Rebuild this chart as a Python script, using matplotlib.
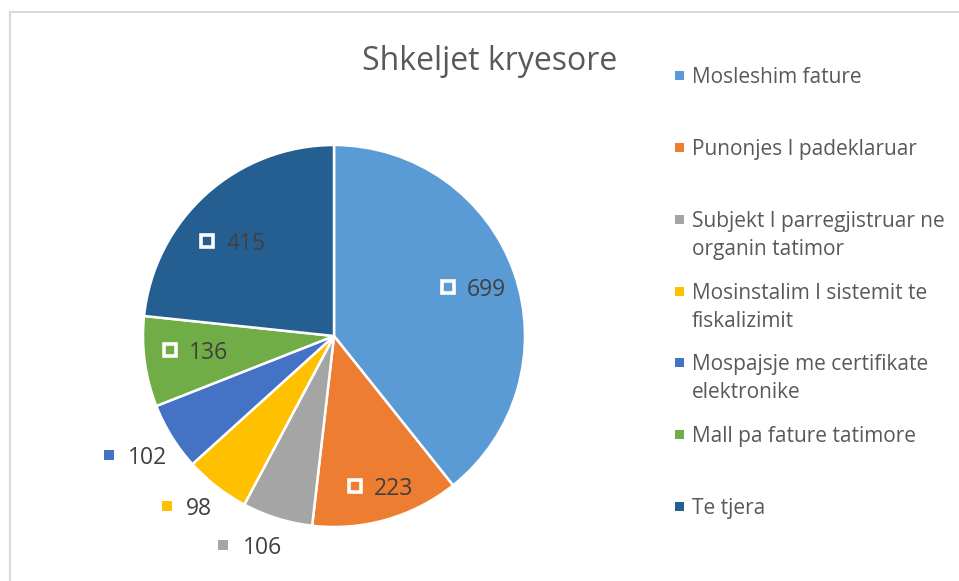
import matplotlib
matplotlib.use("Agg")
import matplotlib.pyplot as plt
import matplotlib.transforms as mtransforms
from matplotlib.patches import Rectangle
import numpy as np

title = "Shkeljet kryesore"
categories = [
    "Mosleshim fature",
    "Punonjes I padeklaruar",
    "Subjekt I parregjistruar ne\norganin tatimor",
    "Mosinstalim I sistemit te\nfiskalizimit",
    "Mospajsje me certifikate\nelektronike",
    "Mall pa fature tatimore",
    "Te tjera",
]
values = [699, 223, 106, 98, 102, 136, 415]
colors = ["#5B9BD5", "#ED7D31", "#A5A5A5", "#FFC000", "#4472C4", "#70AD47", "#255E91"]
label_inside = [True, True, False, False, False, True, True]
# label placement (style): radial distance and angular nudge in degrees
label_radius = [0.77, 0.82, 1.18, 1.16, 1.22, 0.73, 0.73]
label_nudge = [0, 1, -5, -2, -1, -2, 5]

W, H = 959, 581
DPI = 100
plt.rcParams['font.family'] = ['Open Sans', 'DejaVu Sans']
fig = plt.figure(figsize=(W / DPI, H / DPI), dpi=DPI)

def fx(px):
    return px / W

def fy(py):
    return 1 - py / H

# chart frame (top-left corner visible, rest runs off the image)
fig.add_artist(plt.Line2D([fx(10), fx(10)], [fy(12), fy(600)], transform=fig.transFigure,
                          color="#D9D9D9", lw=1.5))
fig.add_artist(plt.Line2D([fx(10), fx(1000)], [fy(12), fy(12)], transform=fig.transFigure,
                          color="#D9D9D9", lw=1.5))

# pie axes
cx, cy, r = 334, 336, 191
ax = fig.add_axes([fx(cx - r), fy(cy + r), 2 * r / W, 2 * r / H])
wedges, _ = ax.pie(values, colors=colors, startangle=90, counterclock=False,
                   radius=1.0, wedgeprops=dict(edgecolor="white", linewidth=1.8))
ax.set_xlim(-1, 1)
ax.set_ylim(-1, 1)
ax.set_aspect("equal")
ax.axis("off")

label_color = "#404040"
text_color = "#595959"
for w, v, inside, c, rad, nud in zip(wedges, values, label_inside, colors,
                                     label_radius, label_nudge):
    mid = np.deg2rad((w.theta1 + w.theta2) / 2 + nud)
    x, y = rad * np.cos(mid), rad * np.sin(mid)
    mtr = mtransforms.offset_copy(ax.transData, fig=fig, x=-25, y=0, units='dots')
    ttr = mtransforms.offset_copy(ax.transData, fig=fig, x=-6, y=0, units='dots')
    if inside:
        ax.plot([x], [y], marker='s', markersize=8.0, markerfacecolor='none',
                markeredgecolor='white', markeredgewidth=2.6, transform=mtr, clip_on=False)
    else:
        ax.plot([x], [y], marker='s', markersize=6.7, markerfacecolor=c,
                markeredgecolor=c, markeredgewidth=0, transform=mtr, clip_on=False)
    ax.text(x, y, f"{v}", transform=ttr, ha='left', va='center_baseline',
            fontsize=16.5, color=label_color)

# title
fig.text(fx(490), fy(70), title, ha='center', va='baseline', fontsize=23, color=text_color)

# legend
entry_y = [75, 147, 219, 291, 362, 434, 506]
for cat, c, yy in zip(categories, colors, entry_y):
    fig.patches.append(Rectangle((fx(675), fy(yy + 5)), fx(9), 9 / H,
                                 transform=fig.transFigure, facecolor=c, edgecolor='none'))
    for i, line in enumerate(cat.split("\n")):
        fig.text(fx(692), fy(yy + 28 * i), line, ha='left', va='center_baseline',
                 fontsize=15, color=text_color)

fig.savefig("out.png", dpi=DPI)
